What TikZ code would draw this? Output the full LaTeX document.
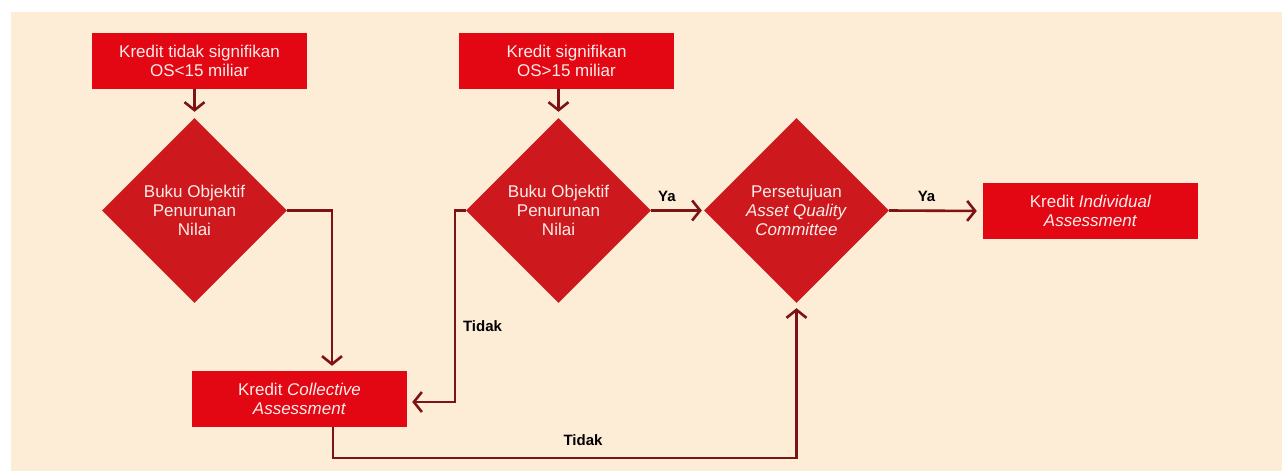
\documentclass[tikz,border=0pt]{standalone}
\usepackage{fontspec}
\setmainfont{Liberation Sans}
\usetikzlibrary{shapes.geometric,arrows.meta}
\definecolor{bg}{HTML}{FEEDD6}
\definecolor{boxred}{HTML}{E30613}
\definecolor{diared}{HTML}{CD181D}
\definecolor{linered}{HTML}{7D1315}
\definecolor{txt}{HTML}{FDEDEA}
\tikzset{
  boxnode/.style={rectangle, fill=boxred, minimum width=215pt, minimum height=56pt, inner sep=0pt,
    text=txt, align=center, font=\fontsize{17}{19}\selectfont},
  dianode/.style={diamond, aspect=1, fill=diared, minimum width=185pt, minimum height=185pt, inner sep=0pt,
    text=txt, align=center, font=\fontsize{17}{19}\selectfont},
  conn/.style={draw=linered, line width=2.6pt},
  arr/.style={conn, -{Straight Barb[length=8pt, width=20pt, line width=2.6pt]}},
  lbl/.style={font=\fontsize{15}{18}\selectfont\bfseries, text=black, inner sep=0pt}
}
\begin{document}
\begin{tikzpicture}[x=1pt,y=-1pt]
\useasboundingbox (0,0) rectangle (1282,471);
\fill[bg] (11,12) rectangle (1282,471);

\node[boxnode] (b1) at (199.5,61) {Kredit tidak signifikan\\OS<15 miliar};
\node[boxnode] (b2) at (566.5,61) {Kredit signifikan\\OS>15 miliar};
\node[boxnode] (bC) at (299.5,399) {Kredit \textit{Collective}\\\textit{Assessment}};
\node[boxnode] (bI) at (1090.5,211) {Kredit \textit{Individual}\\\textit{Assessment}};

\node[dianode] (d1) at (194.5,210.5) {Buku Objektif\\Penurunan\\Nilai};
\node[dianode] (d2) at (558.5,210.5) {Buku Objektif\\Penurunan\\Nilai};
\node[dianode] (d3) at (796.5,210.5) {Persetujuan\\\textit{Asset Quality}\\\textit{Committee}};

\coordinate (c1) at (332,210.5);
\coordinate (c2) at (455,210.5);
\coordinate (c3) at (455,402);
\coordinate (c4) at (333,458);
\coordinate (c5) at (796.5,458);

\draw[arr, shorten >=6pt] (d1.north |- b1.south) -- (d1.north);
\draw[arr, shorten >=6pt] (d2.north |- b2.south) -- (d2.north);
\draw[arr, shorten >=5pt] (d1.east) -- (c1) -- (c1 |- bC.north);
\draw[arr, shorten >=5pt] (d2.west) -- (c2) -- (c3) -- (bC.east |- c3);
\draw[arr, shorten >=2pt] (d2.east) -- (d3.west);
\draw[arr, shorten >=6pt] (d3.east) -- (bI.west);
\draw[arr, shorten >=5pt] (c4 |- bC.south) -- (c4) -- (c5) -- (d3.south);

\node[lbl] (l1) at (667,196) {Ya};
\node[lbl] (l2) at (926.5,196) {Ya};
\node[lbl] (l3) at (482.5,326) {Tidak};
\node[lbl] (l4) at (583,440) {Tidak};
\end{tikzpicture}
\end{document}
